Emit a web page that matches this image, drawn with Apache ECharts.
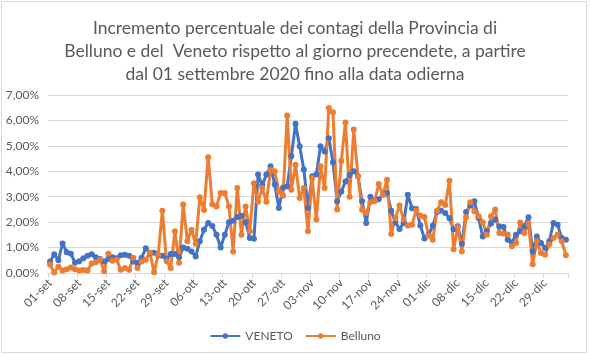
<!DOCTYPE html>
<html>
<head>
<meta charset="utf-8">
<script src="https://cdn.jsdelivr.net/npm/echarts@6/dist/echarts.min.js"></script>
<style>
html,body{margin:0;padding:0;background:#fff;}
#chart{width:590px;height:355px;}
</style>
</head>
<body>
<div id="chart"></div>
<script>
// Category dates: 01-set-2020 .. 03-gen-2021 (daily)
const startDate = [2020, 8, 1]; // year, month index (Sept), day
const dayCount = 125;
const monthNames = ['gen','feb','mar','apr','mag','giu','lug','ago','set','ott','nov','dic'];

const categories = [];
for (let k = 0; k < dayCount; k++) {
  const d = new Date(startDate[0], startDate[1], startDate[2] + k);
  categories.push(String(d.getDate()).padStart(2, '0') + '-' + monthNames[d.getMonth()]);
}

// Daily % increase (values in percent)
const veneto = [
  0.45, 0.74, 0.50, 1.16, 0.82, 0.76, 0.40, 0.46, 0.58, 0.68,
  0.74, 0.62, 0.55, 0.45, 0.55, 0.62, 0.58, 0.70, 0.72, 0.68,
  0.45, 0.40, 0.60, 0.97, 0.78, 0.80, 0.70, 0.68, 0.55, 0.75,
  0.75, 0.62, 1.00, 0.95, 0.85, 0.65, 1.25, 1.70, 1.97, 1.85,
  1.50, 1.00, 1.50, 2.00, 2.05, 2.20, 2.25, 2.00, 1.38, 1.35,
  3.87, 3.45, 3.87, 4.20, 3.48, 2.56, 3.35, 3.40, 4.60, 5.87,
  4.98, 4.07, 2.56, 3.80, 3.87, 4.98, 4.78, 5.30, 4.36, 2.82,
  3.20, 3.60, 3.85, 4.00, 3.80, 2.82, 1.97, 3.00, 2.83, 2.90,
  3.08, 3.15, 2.45, 2.00, 1.73, 1.97, 3.08, 2.55, 2.52, 1.87,
  1.36, 1.50, 1.86, 2.40, 2.45, 2.36, 2.15, 1.72, 1.84, 1.15,
  2.40, 2.65, 2.82, 2.16, 1.44, 1.64, 1.95, 2.10, 1.83, 1.81,
  1.31, 1.20, 1.50, 1.64, 1.84, 2.19, 0.85, 1.44, 1.18, 0.98,
  1.25, 1.97, 1.90, 1.38, 1.31
];

const belluno = [
  0.33, 0.02, 0.25, 0.10, 0.15, 0.22, 0.15, 0.10, 0.12, 0.10,
  0.37, 0.42, 0.52, 0.07, 0.76, 0.48, 0.52, 0.13, 0.20, 0.13,
  0.60, 0.20, 0.45, 0.52, 0.80, 0.03, 0.72, 2.45, 0.46, 0.20,
  1.64, 0.40, 2.69, 1.25, 1.70, 1.15, 2.98, 2.48, 4.55, 2.70,
  2.62, 3.15, 3.15, 2.62, 0.85, 3.34, 1.50, 2.62, 1.64, 3.53,
  2.80, 3.34, 2.80, 4.05, 4.00, 3.20, 3.04, 6.19, 3.27, 4.26,
  2.95, 3.34, 1.64, 3.73, 2.10, 4.20, 3.34, 6.49, 6.32, 2.50,
  4.40, 5.92, 3.00, 5.64, 3.80, 2.49, 2.36, 2.78, 2.83, 3.50,
  3.08, 3.67, 1.53, 2.15, 2.65, 2.10, 1.87, 1.90, 2.47, 2.25,
  2.20, 1.47, 1.31, 2.45, 2.78, 2.67, 3.63, 0.93, 1.80, 0.85,
  2.20, 2.78, 2.43, 2.23, 2.00, 1.50, 2.23, 2.50, 1.57, 1.55,
  1.51, 1.05, 1.18, 1.99, 1.57, 1.95, 0.34, 1.25, 0.79, 0.72,
  1.12, 1.38, 1.51, 1.25, 0.70
];

const seriesNames = ['VENETO', 'Belluno'];
const colors = ['#4472C4', '#ED7D31'];
const titleLines = [
  'Incremento percentuale dei contagi della Provincia di',
  'Belluno e del  Veneto rispetto al giorno precendete, a partire',
  'dal 01 settembre 2020 fino alla data odierna'
];

const chart = echarts.init(document.getElementById('chart'), null, {renderer: 'canvas'});
const font = 'Lato, "Open Sans", sans-serif';

chart.setOption({
  animation: false,
  backgroundColor: '#ffffff',
  color: colors,
  title: {
    text: titleLines.join('\n'),
    left: 'center',
    top: 12,
    textStyle: {
      fontFamily: font,
      fontSize: 17.5,
      fontWeight: 'normal',
      color: '#595959',
      lineHeight: 23
    }
  },
  graphic: [{
    type: 'rect',
    shape: {x: 1.5, y: 1.5, width: 585, height: 351},
    style: {fill: 'none', stroke: '#d9d9d9', lineWidth: 1},
    silent: true
  }],
  grid: {left: 48, right: 22, top: 95, bottom: 82, containLabel: false},
  legend: {
    bottom: 8,
    left: 'center',
    itemWidth: 30,
    itemHeight: 7,
    itemGap: 12,
    textStyle: {fontFamily: font, fontSize: 12, color: '#595959'},
    data: seriesNames
  },
  xAxis: {
    type: 'category',
    data: categories,
    boundaryGap: true,
    axisLine: {lineStyle: {color: '#d9d9d9', width: 1}},
    axisTick: {show: true, interval: 6, length: 5, lineStyle: {color: '#d9d9d9'}},
    axisLabel: {
      interval: 6,
      rotate: 45,
      fontFamily: font,
      fontSize: 12,
      color: '#595959',
      margin: 8
    }
  },
  yAxis: {
    type: 'value',
    min: 0,
    max: 7,
    interval: 1,
    axisLine: {show: false},
    axisTick: {show: false},
    splitLine: {lineStyle: {color: '#d9d9d9', width: 1}},
    axisLabel: {
      fontFamily: font,
      fontSize: 12,
      color: '#595959',
      margin: 9,
      formatter: v => v.toFixed(2).replace('.', ',') + '%'
    }
  },
  series: [
    {
      name: seriesNames[0],
      type: 'line',
      data: veneto,
      symbol: 'circle',
      symbolSize: 6,
      showAllSymbol: true,
      lineStyle: {width: 3, color: colors[0]},
      itemStyle: {color: colors[0]}
    },
    {
      name: seriesNames[1],
      type: 'line',
      data: belluno,
      symbol: 'circle',
      symbolSize: 6,
      showAllSymbol: true,
      lineStyle: {width: 3, color: colors[1]},
      itemStyle: {color: colors[1]}
    }
  ]
});
</script>
</body>
</html>
